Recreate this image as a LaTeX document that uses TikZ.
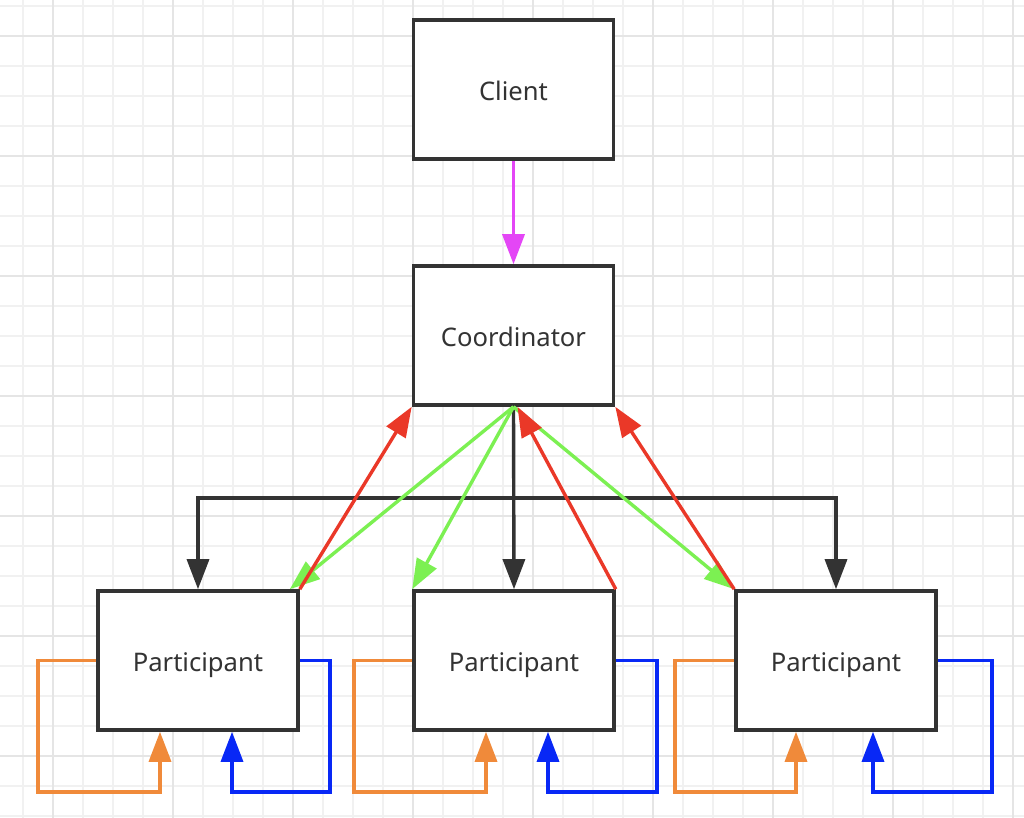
\documentclass[tikz,border=0pt]{standalone}
\usepackage{fontspec}
\setmainfont{Noto Sans}
\usepackage{tikz}
\usetikzlibrary{arrows.meta,positioning,calc}

\definecolor{boxgray}{RGB}{51,51,51}
\definecolor{gridminor}{RGB}{241,241,241}
\definecolor{gridmajor}{RGB}{229,229,229}
\definecolor{callpink}{RGB}{228,70,246}
\definecolor{votered}{RGB}{234,56,40}
\definecolor{asklime}{RGB}{124,240,82}
\definecolor{logorange}{RGB}{240,138,58}
\definecolor{logblue}{RGB}{8,40,246}

\begin{document}
\begin{tikzpicture}[x=0.5pt,y=-0.5pt,
    box/.style={draw=boxgray, line width=1.8pt, fill=white, minimum width=100pt,
        minimum height=69.5pt, inner sep=0pt, text=boxgray,
        text height=11pt, text depth=0.3pt,
        font=\fontsize{12.8}{15}\selectfont},
    tip/.style={-{Triangle[length=15pt,width=11pt]}, line width=1.7pt},
    pinkarrow/.style={tip, color=callpink},
    blackarrow/.style={tip, color=boxgray},
    greenarrow/.style={tip, color=asklime},
    redarrow/.style={tip, color=votered},
    orangeloop/.style={tip, color=logorange},
    blueloop/.style={tip, color=logblue}]
    \useasboundingbox (0,0) rectangle (1024,818);
    \fill[white] (0,0) rectangle (1024,818);

    % Grid
    \foreach \gx in {23,53,...,1013}
        \draw[gridminor, line width=1pt] (\gx,0) -- (\gx,818);
    \foreach \gy in {6,36,...,816}
        \draw[gridminor, line width=1pt] (0,\gy) -- (1024,\gy);
    \foreach \gx in {53,173,...,1013}
        \draw[gridmajor, line width=1.1pt] (\gx,0) -- (\gx,818);
    \foreach \gy in {36,156,...,756}
        \draw[gridmajor, line width=1.1pt] (0,\gy) -- (1024,\gy);

    % Boxes
    \node[box] (client) at (513.5,89.5) {Client};
    \node[box] (coord) at (513.5,335.5) {Coordinator};
    \node[box] (p1) at (198,660.5) {Participant};
    \node[box] (p2) at (514,660.5) {Participant};
    \node[box] (p3) at (836,660.5) {Participant};

    % Request
    \draw[pinkarrow] (client.south) -- (coord.north);

    % Broadcast bus
    \coordinate (bus) at (513.5,498);
    \draw[blackarrow] (bus) -| (p1.north);
    \draw[blackarrow] (bus) -| (p3.north);
    \draw[blackarrow] (coord.south) -- (p2.north);

    % Prepare / commit
    \draw[greenarrow] (coord.south) -- ([xshift=-5pt]p1.north east);
    \draw[greenarrow] (coord.south) -- (p2.north west);
    \draw[greenarrow] (coord.south) -- (p3.north west);

    % Votes
    \draw[redarrow] (p1.north east) -- (coord.south west);
    \draw[redarrow] (p2.north east) -- ([xshift=2pt]coord.south);
    \draw[redarrow] (p3.north west) -- (coord.south east);

    % Local loops
    \draw[orangeloop] (p1.west) -| (38,792) -| ([xshift=-19pt]p1.south);
    \draw[blueloop] (p1.east) -| (330,792) -| ([xshift=17pt]p1.south);
    \draw[orangeloop] (p2.west) -| (354,792) -| ([xshift=-14pt]p2.south);
    \draw[blueloop] (p2.east) -| (657,792) -| ([xshift=17pt]p2.south);
    \draw[orangeloop] (p3.west) -| (675,792) -| ([xshift=-20pt]p3.south);
    \draw[blueloop] (p3.east) -| (992,792) -| ([xshift=18.5pt]p3.south);
\end{tikzpicture}
\end{document}
